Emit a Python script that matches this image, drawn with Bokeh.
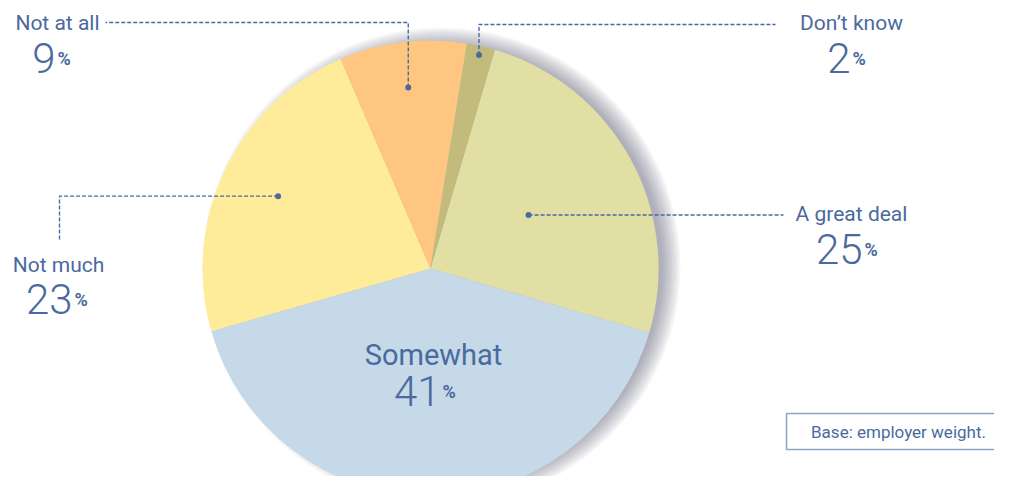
import numpy as np
from bokeh.plotting import figure
from bokeh.models import Range1d
from bokeh.core.properties import value
from bokeh.embed import file_html
from bokeh.resources import INLINE

# ---- data ----
categories = ["A great deal", "Somewhat", "Not much", "Not at all", "Don\u2019t know"]
values = [25, 41, 23, 9, 2]
colors = ["#e1dfa4", "#c5d9e8", "#feec9b", "#fec680", "#c2bb7b"]
pct_labels = ["25", "41", "23", "9", "2"]
base_note = "Base: employer weight."

# ---- layout ----
W, H = 994, 476
TXT = "#4a6a9e"
p = figure(width=W, height=H, x_range=Range1d(0, W), y_range=Range1d(492 - H, 492),
           output_backend="svg", toolbar_location=None, min_border=0)
p.axis.visible = False
p.grid.visible = False
p.outline_line_color = None
p.background_fill_color = "white"


def sy(y):
    return 492 - y


cx, cy, R = 430, sy(268), 228
start0 = 16.4  # compass degrees of first slice start

vals = np.array(values, dtype=float)
cum = np.concatenate([[0], np.cumsum(vals)[:-1]])
start_c = start0 + cum * 3.6
end_c = start_c + vals * 3.6
mid_c = (start_c + end_c) / 2

# ---- shadow (blurred, offset) ----
scx, scy = cx + 11, cy + 2
for i in range(14):
    p.circle(x=[scx], y=[scy], radius=R + 11 - i * 1.4, fill_color="#5a6472",
             fill_alpha=0.045, line_color=None)

# ---- pie ----
p.wedge(x=cx, y=cy, radius=R,
        start_angle=np.radians(90 - start_c), end_angle=np.radians(90 - end_c),
        direction="clock", fill_color=colors, line_color=None)

# ---- leader dots ----
rfrac = {"A great deal": 0.49, "Not much": 0.74, "Not at all": 0.80, "Don\u2019t know": 0.96}
dots = {}
for cat, m in zip(categories, mid_c):
    if cat in rfrac:
        r = rfrac[cat] * R
        dots[cat] = (cx + r * np.sin(np.radians(m)), cy + r * np.cos(np.radians(m)))

dash = "4 2"
lw = 1.4
dx, dy = dots["A great deal"]
p.line([dx, 783], [dy, dy], line_color=TXT, line_dash=dash, line_width=lw)
dx, dy = dots["Not much"]
p.line([dx, 59, 59], [dy, dy, sy(240)], line_color=TXT, line_dash=dash, line_width=lw)
dx, dy = dots["Not at all"]
p.line([dx, dx, 105], [dy, sy(22), sy(22)], line_color=TXT, line_dash=dash, line_width=lw)
dx, dy = dots["Don\u2019t know"]
p.line([dx, dx, 775], [dy, sy(24), sy(24)], line_color=TXT, line_dash=dash, line_width=lw)

p.scatter([d[0] for d in dots.values()], [d[1] for d in dots.values()],
          size=6, fill_color=TXT, line_color=None)

# ---- labels ----
# (label center x, label mid y, label size, number right x, number mid y)
lay = {
    "A great deal": (851, 213, 21, 862, 248),
    "Somewhat": (433, 354, 29, 440, 390),
    "Not much": (58, 264, 21, 72, 298),
    "Not at all": (57, 22, 21, 55, 57),
    "Don\u2019t know": (851, 22, 21, 850, 57),
}
for cat, num in zip(categories, pct_labels):
    lx, lm, ls, nx, nm = lay[cat]
    p.text(x=[lx], y=[sy(lm)], text=[cat], text_align="center", text_baseline="middle",
           text_font=value("Roboto"), text_font_size=f"{ls}px", text_color=TXT)
    p.text(x=[nx], y=[sy(nm)], text=[num], text_align="right", text_baseline="middle",
           text_font=value("Roboto Light, Roboto"), text_font_size="42px", text_color=TXT)
    p.text(x=[nx + 2], y=[sy(nm + 1)], text=["%"], text_align="left", text_baseline="middle",
           text_font=value("Roboto"), text_font_style="bold", text_font_size="18px",
           text_color=TXT)

# ---- base note box (right side runs off the page) ----
p.line(x=[1000, 786, 786, 1000], y=[sy(413), sy(413), sy(449), sy(449)],
       line_color="#8fa3c6", line_width=1.5)
p.text(x=[898], y=[sy(431)], text=[base_note], text_align="center", text_baseline="middle",
       text_font=value("Roboto"), text_font_size="17px", text_color=TXT)

open("out.html", "w").write(file_html(p, INLINE))
